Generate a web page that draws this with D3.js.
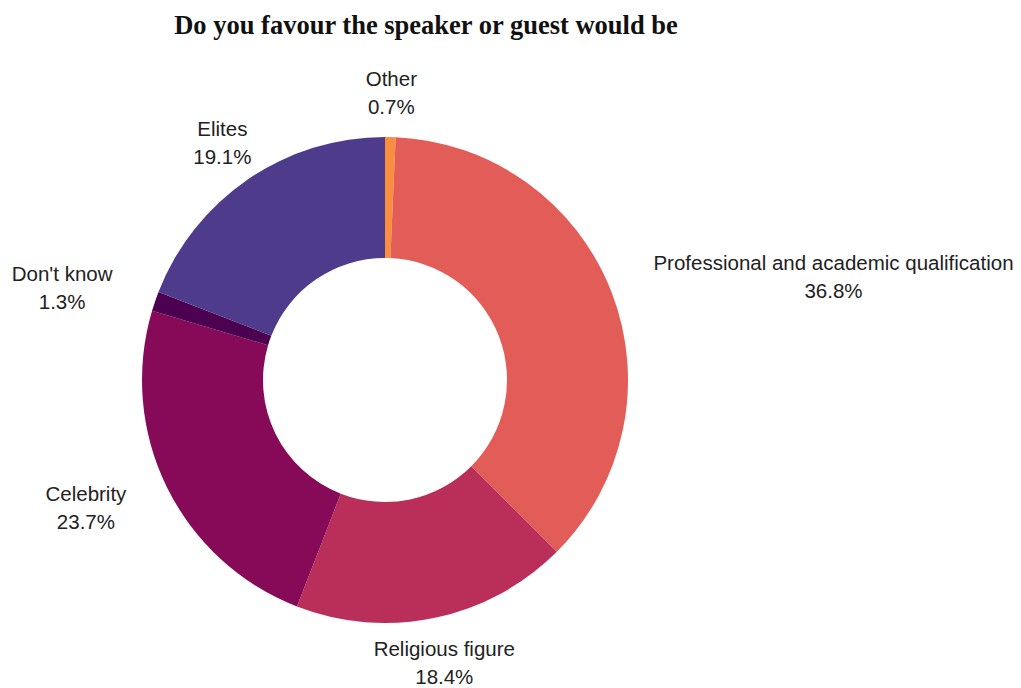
<!DOCTYPE html>
<html>
<head>
<meta charset="utf-8">
<script src="https://cdn.jsdelivr.net/npm/d3@7"></script>
<style>
  body { margin: 0; background: #fff; }
  svg { display: block; }
</style>
</head>
<body>
<script>
// chart data
const categories = ["Other", "Professional and academic qualification", "Religious figure", "Celebrity", "Don't know", "Elites"];
const shares = [0.7, 36.8, 18.4, 23.7, 1.3, 19.1];
const colors = ["#f98e3e", "#e35d58", "#b92f5a", "#860a57", "#4b0150", "#4f3b8c"];

const width = 1021, height = 688;
const cx = 385, cy = 380;
const outerR = 243, innerR = 122, labelR = 288;

const svg = d3.select("body").append("svg")
  .attr("width", width)
  .attr("height", height);

// title
svg.append("text")
  .attr("x", 426)
  .attr("y", 34)
  .attr("text-anchor", "middle")
  .style("font-family", "'Liberation Serif', serif")
  .style("font-weight", "bold")
  .style("font-size", "26.5px")
  .style("fill", "#111")
  .text("Do you favour the speaker or guest would be");

const data = categories.map((c, i) => ({ name: c, value: shares[i], color: colors[i] }));

const pie = d3.pie().value(d => d.value).sort(null);
const arc = d3.arc().innerRadius(innerR).outerRadius(outerR);

const g = svg.append("g").attr("transform", "translate(" + cx + "," + cy + ")");

const arcs = pie(data);

g.selectAll("path")
  .data(arcs)
  .enter().append("path")
  .attr("d", arc)
  .attr("fill", d => d.data.color);

// labels placed around the ring, two centred lines per block
const labels = g.selectAll("text.lbl")
  .data(arcs)
  .enter().append("text")
  .attr("class", "lbl")
  .attr("text-anchor", "middle")
  .style("font-family", "'Liberation Sans', Arial, sans-serif")
  .style("font-size", "20.5px")
  .style("fill", "#222");

labels.append("tspan")
  .attr("x", 0)
  .attr("y", -6)
  .text(d => d.data.name);

labels.append("tspan")
  .attr("x", 0)
  .attr("y", 22)
  .text(d => d.data.value.toFixed(1) + "%");

labels.attr("transform", function (d) {
  const a = (d.startAngle + d.endAngle) / 2;
  const s = Math.sin(a);
  let x = labelR * s;
  const y = -labelR * Math.cos(a);
  const w = d3.max(d3.select(this).selectAll("tspan").nodes(), n => n.getComputedTextLength());
  if (s > 0.8) x += w / 2;
  else if (s < -0.8) x -= w / 2;
  return "translate(" + x + "," + y + ")";
});
</script>
</body>
</html>
